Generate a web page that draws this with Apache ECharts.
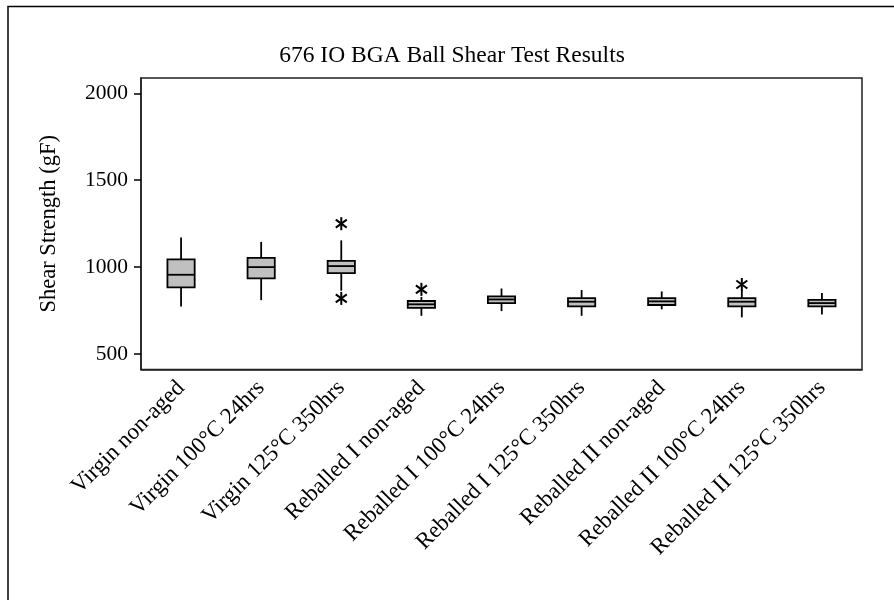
<!DOCTYPE html>
<html><head><meta charset="utf-8">
<script src="https://cdn.jsdelivr.net/npm/echarts@6/dist/echarts.min.js"></script>
<style>html,body{margin:0;padding:0;background:#fff}#c{width:894px;height:600px}</style>
</head><body><div id="c"></div>
<script>
const categories = ['Virgin non-aged','Virgin 100°C 24hrs','Virgin 125°C 350hrs','Reballed I non-aged','Reballed I 100°C 24hrs','Reballed I 125°C 350hrs','Reballed II non-aged','Reballed II 100°C 24hrs','Reballed II 125°C 350hrs'];
const whiskerLow  = [774, 810, 864, 720, 747, 720, 757, 711, 728];
const q1          = [883, 935, 966, 766, 793, 774, 782, 774, 774];
const median      = [956, 1000, 1006, 786, 814, 801, 803, 801, 793];
const q3          = [1044, 1053, 1036, 805, 832, 822, 822, 822, 812];
const whiskerHigh = [1171, 1145, 1154, 828, 877, 868, 860, 864, 851];
const outlierCat = [2, 2, 3, 7];
const outlierVal = [1250, 820, 872, 900];
const yTicks = [500, 1000, 1500, 2000];

const FONT = "'Liberation Serif', 'Times New Roman', serif";
const boxData = categories.map((c, i) => [i, whiskerLow[i], q1[i], median[i], q3[i], whiskerHigh[i]]);
const outData = outlierCat.map((c, i) => [c, outlierVal[i]]);

const chart = echarts.init(document.getElementById('c'));
chart.setOption({
  animation: false,
  backgroundColor: '#fff',
  title: {
    text: '676 IO BGA Ball Shear Test Results',
    left: 447, textAlign: 'center', top: 39,
    textStyle: { fontFamily: FONT, fontSize: 23.5, fontWeight: 'normal', color: '#000' }
  },
  graphic: [{
    type: 'polyline',
    shape: { points: [[8, 600], [8, 6.5], [894, 6.5]] },
    style: { stroke: '#000', lineWidth: 1.5, fill: null },
    silent: true
  }],
  grid: { left: 141, right: 32, top: 78, bottom: 230.5, show: true, borderColor: '#222', borderWidth: 1.5 },
  xAxis: {
    type: 'category', data: categories, boundaryGap: true,
    axisLine: { lineStyle: { color: '#222', width: 1.5 } },
    axisTick: { alignWithLabel: true, length: 7, lineStyle: { color: '#000', width: 1.5 } },
    axisLabel: { rotate: 45, interval: 0, margin: 15, fontFamily: FONT, fontSize: 23, color: '#000' }
  },
  yAxis: {
    type: 'value', min: 411, max: 2088,
    name: 'Shear Strength (gF)', nameLocation: 'middle', nameGap: 80,
    nameTextStyle: { fontFamily: FONT, fontSize: 22.5, color: '#000' },
    splitLine: { show: false },
    axisLine: { show: true, lineStyle: { color: '#222', width: 1.5 } },
    axisTick: { show: true, length: 7, customValues: yTicks, lineStyle: { color: '#000', width: 1.5 } },
    axisLabel: { customValues: yTicks, formatter: v => String(v), margin: 13, fontFamily: FONT, fontSize: 21.5, color: '#000' }
  },
  series: [{
    type: 'custom',
    data: boxData,
    encode: { x: 0, y: [1, 2, 3, 4, 5] },
    renderItem: function (params, api) {
      const i = api.value(0);
      const pLow = api.coord([i, api.value(1)]);
      const pQ1 = api.coord([i, api.value(2)]);
      const pMed = api.coord([i, api.value(3)]);
      const pQ3 = api.coord([i, api.value(4)]);
      const pHigh = api.coord([i, api.value(5)]);
      const bw = api.size([1, 0])[0] * 0.34;
      const x = pMed[0];
      const ls = { stroke: '#000', lineWidth: 1.8 };
      return {
        type: 'group',
        children: [
          { type: 'line', shape: { x1: x, y1: pHigh[1], x2: x, y2: pQ3[1] }, style: ls },
          { type: 'line', shape: { x1: x, y1: pQ1[1], x2: x, y2: pLow[1] }, style: ls },
          { type: 'rect', shape: { x: x - bw / 2, y: pQ3[1], width: bw, height: pQ1[1] - pQ3[1] },
            style: { fill: '#c0c0c0', stroke: '#000', lineWidth: 1.8 } },
          { type: 'line', shape: { x1: x - bw / 2, y1: pMed[1], x2: x + bw / 2, y2: pMed[1] }, style: ls }
        ]
      };
    }
  }, {
    type: 'custom',
    data: outData,
    encode: { x: 0, y: 1 },
    renderItem: function (params, api) {
      const p = api.coord([api.value(0), api.value(1)]);
      const r = 6.5, dx = 5.5, dy = 4;
      const ls = { stroke: '#000', lineWidth: 2 };
      return {
        type: 'group',
        children: [
          { type: 'line', shape: { x1: p[0], y1: p[1] - r, x2: p[0], y2: p[1] + r }, style: ls },
          { type: 'line', shape: { x1: p[0] - dx, y1: p[1] - dy, x2: p[0] + dx, y2: p[1] + dy }, style: ls },
          { type: 'line', shape: { x1: p[0] - dx, y1: p[1] + dy, x2: p[0] + dx, y2: p[1] - dy }, style: ls }
        ]
      };
    }
  }]
});
</script>
</body></html>
